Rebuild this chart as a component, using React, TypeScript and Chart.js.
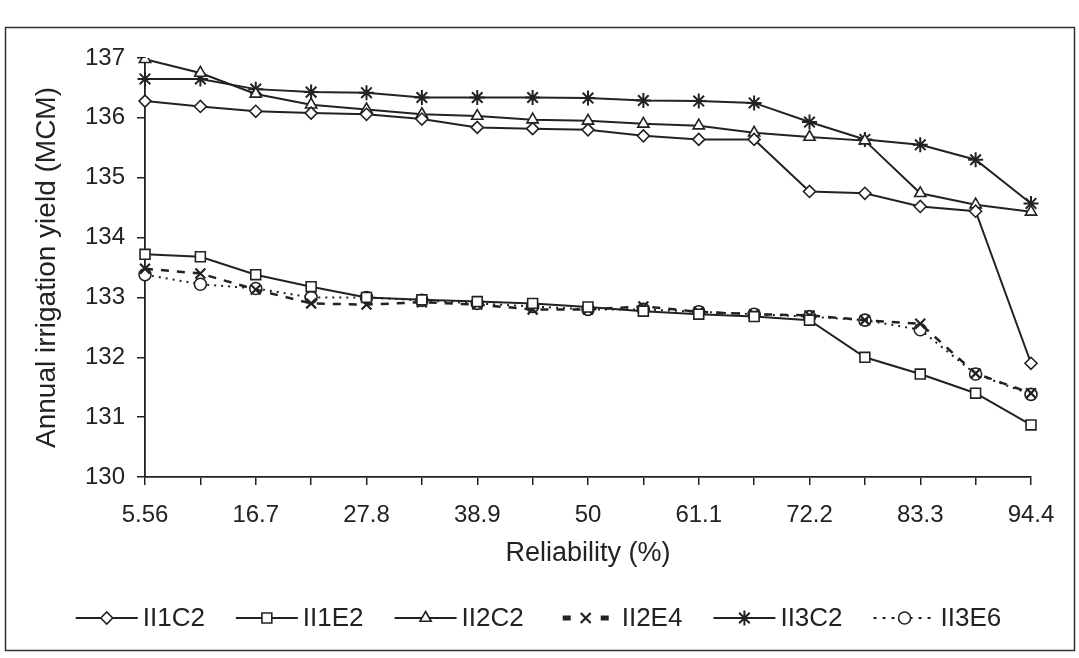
import React, { useEffect, useRef } from 'react';
import { Chart, registerables } from 'chart.js';
import { drawPoint } from 'chart.js/helpers';

Chart.register(...registerables);

// ---------------- data ----------------
const categories = ['5.56', '11.1', '16.7', '22.2', '27.8', '33.3', '38.9', '44.4', '50', '55.6', '61.1', '66.7', '72.2', '77.8', '83.3', '88.9', '94.4'];

const II1C2 = [136.28, 136.19, 136.11, 136.08, 136.06, 135.98, 135.84, 135.82, 135.80, 135.70, 135.64, 135.64, 134.77, 134.74, 134.52, 134.44, 131.90];
const II1E2 = [133.72, 133.68, 133.38, 133.18, 133.00, 132.96, 132.93, 132.90, 132.84, 132.77, 132.72, 132.68, 132.62, 132.00, 131.72, 131.40, 130.87];
const II2C2 = [136.98, 136.75, 136.40, 136.22, 136.14, 136.06, 136.03, 135.97, 135.95, 135.90, 135.87, 135.75, 135.68, 135.62, 134.74, 134.55, 134.43];
const II2E4 = [133.48, 133.40, 133.13, 132.90, 132.88, 132.92, 132.88, 132.80, 132.80, 132.85, 132.76, 132.72, 132.70, 132.62, 132.56, 131.73, 131.40];
const II3C2 = [136.65, 136.65, 136.48, 136.43, 136.42, 136.34, 136.34, 136.34, 136.33, 136.29, 136.28, 136.25, 135.93, 135.64, 135.55, 135.30, 134.57];
const II3E6 = [133.38, 133.22, 133.15, 133.00, 133.00, 132.95, 132.90, 132.85, 132.80, 132.80, 132.76, 132.72, 132.68, 132.62, 132.46, 131.72, 131.38];

const seriesNames = ['II1C2', 'II1E2', 'II2C2', 'II2E4', 'II3C2', 'II3E6'];
const yMin = 130;
const yMax = 137;
const yStep = 1;
const xTitle = 'Reliability (%)';
const yTitle = 'Annual irrigation yield (MCM)';

// ---------------- style ----------------
const INK = '#222222';
const FONT = "'Liberation Sans', Arial, Helvetica, sans-serif";
const W = 1079;
const H = 658;

const mk = (label: string, data: number[], pointStyle: string, radius: number, extra: any = {}) => ({
  label,
  data,
  borderColor: INK,
  borderWidth: 2,
  pointStyle,
  pointRadius: radius,
  pointHoverRadius: radius,
  pointBorderColor: INK,
  pointBackgroundColor: '#ffffff',
  pointBorderWidth: 1.6,
  tension: 0,
  fill: false,
  ...extra,
});

const legendAndFrame = {
  id: 'legendAndFrame',
  afterDraw(chart: any) {
    const ctx = chart.ctx as CanvasRenderingContext2D;
    ctx.save();
    ctx.font = `26px ${FONT}`;
    const sample = 62;
    const gapIn = 5;
    const gapOut = 31;
    const items = chart.data.datasets.map((ds: any) => ({ ds, w: ctx.measureText(ds.label).width }));
    const total = items.reduce((a: number, it: any) => a + sample + gapIn + it.w, 0) + gapOut * (items.length - 1);
    let x = 538.5 - total / 2;
    const y = 618;
    items.forEach(({ ds, w }: any) => {
      ctx.strokeStyle = INK;
      ctx.lineWidth = ds.legendLineWidth || ds.borderWidth;
      ctx.setLineDash(ds.legendDash || ds.borderDash || []);
      ctx.lineDashOffset = ds.legendDashOffset || 0;
      ctx.beginPath();
      ctx.moveTo(x, y);
      ctx.lineTo(x + sample, y);
      ctx.stroke();
      ctx.setLineDash([]);
      ctx.lineDashOffset = 0;
      ctx.fillStyle = '#ffffff';
      ctx.strokeStyle = INK;
      ctx.lineWidth = ds.pointBorderWidth;
      drawPoint(ctx, { pointStyle: ds.pointStyle, radius: ds.pointRadius, rotation: 0, borderWidth: ds.pointBorderWidth } as any, x + sample / 2, y);
      ctx.fillStyle = INK;
      ctx.textBaseline = 'middle';
      ctx.textAlign = 'left';
      ctx.fillText(ds.label, x + sample + gapIn, y + 1);
      x += sample + gapIn + w + gapOut;
    });
    ctx.strokeStyle = '#333333';
    ctx.lineWidth = 1.5;
    ctx.strokeRect(5.5, 27.5, 1069, 623);
    ctx.restore();
  },
};

export default function App() {
  const ref = useRef<HTMLCanvasElement | null>(null);

  useEffect(() => {
    if (!ref.current) return;
    Chart.defaults.font.family = FONT;
    const chart = new Chart(ref.current, {
      type: 'line',
      data: {
        labels: categories,
        datasets: [
          mk(seriesNames[0], II1C2, 'rectRot', 6),
          mk(seriesNames[1], II1E2, 'rect', 7),
          mk(seriesNames[2], II2C2, 'triangle', 6.5),
          mk(seriesNames[3], II2E4, 'crossRot', 7, { borderDash: [8, 8], borderWidth: 2.5, pointBorderWidth: 2.2, legendLineWidth: 5, legendDash: [8, 30], legendDashOffset: 30 }),
          mk(seriesNames[4], II3C2, 'star', 7.5, { pointBorderWidth: 2 }),
          mk(seriesNames[5], II3E6, 'circle', 6, { borderDash: [2, 5], legendDash: [3, 6] }),
        ] as any,
      },
      options: {
        responsive: false,
        animation: false,
        events: [],
        layout: { padding: { left: 0, top: 58, right: 48, bottom: 63 } },
        plugins: { legend: { display: false }, tooltip: { enabled: false } },
        scales: {
          x: {
            type: 'category',
            offset: false,
            grid: { drawOnChartArea: false, drawTicks: true, tickLength: 8, color: INK, lineWidth: 1.5 },
            border: { display: true, color: INK, width: 1.8 },
            ticks: {
              autoSkip: false,
              maxRotation: 0,
              color: INK,
              font: { size: 24 },
              padding: 16,
              callback: (_v: any, i: number) => (i % 2 === 0 ? categories[i] : ''),
            },
            title: { display: true, text: xTitle, color: INK, font: { size: 27 }, padding: { top: 0, bottom: 25 } },
            afterFit: (s: any) => { s.height = 118; },
          },
          y: {
            min: yMin,
            max: yMax,
            grid: { drawOnChartArea: false, drawTicks: true, tickLength: 8, color: INK, lineWidth: 1.5 },
            border: { display: true, color: INK, width: 1.8 },
            ticks: { stepSize: yStep, color: INK, font: { size: 24 }, padding: 12 },
            title: { display: true, text: yTitle, color: INK, font: { size: 28 }, padding: { top: 30, bottom: 0 } },
            afterFit: (s: any) => { s.width = 145; },
          },
        },
      },
      plugins: [legendAndFrame],
    });
    return () => chart.destroy();
  }, []);

  return (
    <div style={{ position: 'fixed', left: 0, top: 0, width: W, height: H, background: '#ffffff' }}>
      <canvas ref={ref} width={W} height={H} style={{ display: 'block', width: W, height: H }} />
    </div>
  );
}
